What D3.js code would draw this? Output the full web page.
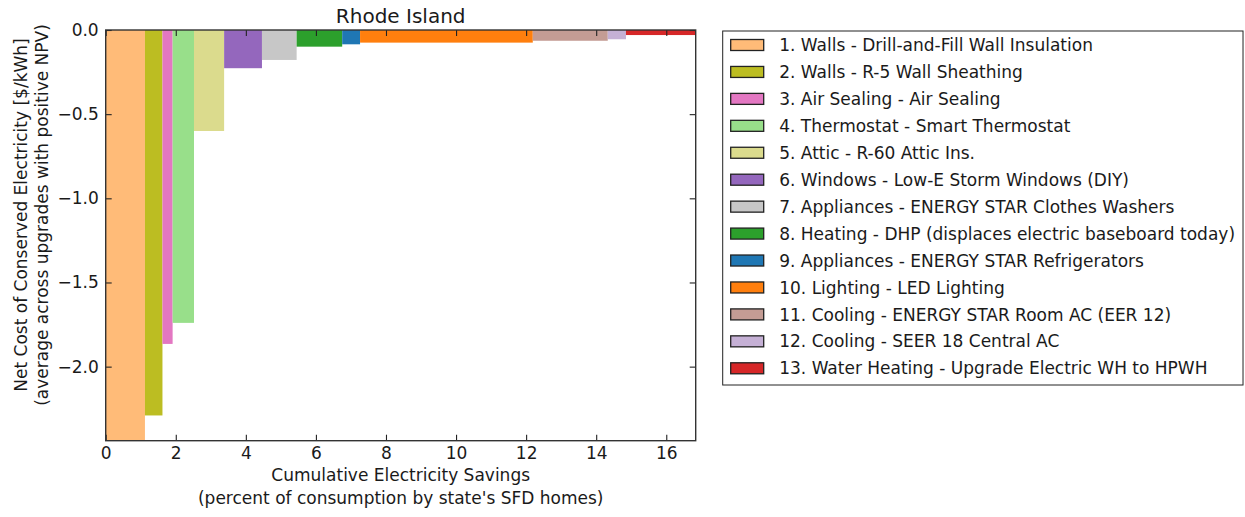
<!DOCTYPE html>
<html>
<head>
<meta charset="utf-8">
<script src="https://d3js.org/d3.v7.min.js"></script>
<style>
  body { margin: 0; background: #fff; }
  text { font-family: "DejaVu Sans", sans-serif; fill: #1a1a1a; }
</style>
</head>
<body>
<svg id="chart" width="1245" height="517"></svg>
<script>
//upgrade names, in the order they are stacked along the x axis
var upgrades = [
	"1. Walls - Drill-and-Fill Wall Insulation",
	"2. Walls - R-5 Wall Sheathing",
	"3. Air Sealing - Air Sealing",
	"4. Thermostat - Smart Thermostat",
	"5. Attic - R-60 Attic Ins.",
	"6. Windows - Low-E Storm Windows (DIY)",
	"7. Appliances - ENERGY STAR Clothes Washers",
	"8. Heating - DHP (displaces electric baseboard today)",
	"9. Appliances - ENERGY STAR Refrigerators",
	"10. Lighting - LED Lighting",
	"11. Cooling - ENERGY STAR Room AC (EER 12)",
	"12. Cooling - SEER 18 Central AC",
	"13. Water Heating - Upgrade Electric WH to HPWH"
];

//electricity savings of each upgrade (bar width, percent)
var savings = [1.12, 0.50, 0.29, 0.61, 0.86, 1.08, 0.99, 1.30, 0.51, 4.93, 2.14, 0.52, 1.99];

//net cost of conserved electricity (bar height, $/kWh)
var netCost = [-2.44, -2.29, -1.865, -1.74, -0.60, -0.227, -0.178, -0.099, -0.085, -0.075, -0.064, -0.055, -0.03];

var barColors = ["#ffbb78", "#bcbd22", "#e377c2", "#98df8a", "#dbdb8d", "#9467bd", "#c7c7c7",
	"#2ca02c", "#1f77b4", "#ff7f0e", "#c49c94", "#c5b0d5", "#d62728"];

var xTicks = [0, 2, 4, 6, 8, 10, 12, 14, 16];
var yTicks = [0, -0.5, -1.0, -1.5, -2.0];

//plot box in pixels
var plotLeft = 105.7, plotRight = 695.7, plotTop = 30, plotBottom = 440.7;
var fontSize = 17;

var svg = d3.select("#chart");

//cumulative start of every bar
var ends = Array.from(d3.cumsum(savings));
var bars = upgrades.map(function(name, i) {
	return {name: name, x0: ends[i] - savings[i], x1: ends[i], cost: netCost[i], color: barColors[i]};
});

var x = d3.scaleLinear()
	.domain([0, ends[ends.length - 1]])
	.range([plotLeft, plotRight]);

var y = d3.scaleLinear()
	.domain([d3.min(netCost), 0])
	.range([plotBottom, plotTop]);

//bars hang down from zero
svg.append("g")
	.selectAll("rect")
	.data(bars)
	.enter().append("rect")
	.attr("x", function(d) { return x(d.x0); })
	.attr("width", function(d) { return x(d.x1) - x(d.x0); })
	.attr("y", y(0))
	.attr("height", function(d) { return y(d.cost) - y(0); })
	.attr("fill", function(d) { return d.color; });

//inward ticks on all four sides (classic style)
var tickLen = 6;

svg.append("g")
	.attr("transform", "translate(0," + plotBottom + ")")
	.call(d3.axisBottom(x).tickValues(xTicks).tickFormat(d3.format("d"))
		.tickSizeInner(-tickLen).tickSizeOuter(0).tickPadding(6.5));

svg.append("g")
	.attr("transform", "translate(0," + plotTop + ")")
	.call(d3.axisTop(x).tickValues(xTicks).tickFormat("")
		.tickSizeInner(-tickLen).tickSizeOuter(0));

svg.append("g")
	.attr("transform", "translate(" + plotLeft + ",0)")
	.call(d3.axisLeft(y).tickValues(yTicks).tickFormat(d3.format(".1f"))
		.tickSizeInner(-tickLen).tickSizeOuter(0).tickPadding(7));

svg.append("g")
	.attr("transform", "translate(" + plotRight + ",0)")
	.call(d3.axisRight(y).tickValues(yTicks).tickFormat("")
		.tickSizeInner(-tickLen).tickSizeOuter(0));

svg.selectAll(".domain").remove();
svg.selectAll(".tick line").attr("stroke", "#222").attr("stroke-width", 1.1);
svg.selectAll(".tick text")
	.attr("font-size", fontSize)
	.attr("font-family", "DejaVu Sans")
	.attr("fill", "#1a1a1a");

//axes frame
svg.append("rect")
	.attr("x", plotLeft).attr("y", plotTop)
	.attr("width", plotRight - plotLeft).attr("height", plotBottom - plotTop)
	.attr("fill", "none")
	.attr("stroke", "#333")
	.attr("stroke-width", 1.4);

//title
svg.append("text")
	.attr("x", (plotLeft + plotRight) / 2)
	.attr("y", 22.5)
	.attr("text-anchor", "middle")
	.attr("font-size", 20)
	.text("Rhode Island");

//x label, two lines
var xLabel = ["Cumulative Electricity Savings", "(percent of consumption by state's SFD homes)"];
svg.append("g").selectAll("text")
	.data(xLabel)
	.enter().append("text")
	.attr("x", (plotLeft + plotRight) / 2)
	.attr("y", function(d, i) { return 481 + i * 23; })
	.attr("text-anchor", "middle")
	.attr("font-size", fontSize)
	.text(function(d) { return d; });

//y label, two lines, rotated
var yLabel = ["Net Cost of Conserved Electricity [$/kWh]", "(average across upgrades with positive NPV)"];
svg.append("g").selectAll("text")
	.data(yLabel)
	.enter().append("text")
	.attr("transform", function(d, i) { return "translate(" + (26.5 + i * 21) + ",215) rotate(-90)"; })
	.attr("text-anchor", "middle")
	.attr("font-size", fontSize)
	.text(function(d) { return d; });

//==LEGEND==
var legX = 722.7, legY = 31, rowH = 26.94;
var legend = svg.append("g").attr("transform", "translate(" + legX + "," + legY + ")");

var frame = legend.append("rect")
	.attr("x", 0).attr("y", 0)
	.attr("height", 354)
	.attr("fill", "#fff")
	.attr("stroke", "#222")
	.attr("stroke-width", 1);

var rows = legend.selectAll(".row")
	.data(bars)
	.enter().append("g")
	.attr("class", "row")
	.attr("transform", function(d, i) { return "translate(0," + (14 + i * rowH) + ")"; });

rows.append("rect")
	.attr("x", 8).attr("y", -5.5)
	.attr("width", 33).attr("height", 11)
	.attr("fill", function(d) { return d.color; })
	.attr("stroke", "#222")
	.attr("stroke-width", 1.3);

rows.append("text")
	.attr("x", 56.5)
	.attr("dy", "0.36em")
	.attr("font-size", fontSize)
	.text(function(d) { return d.name; });

//size the frame to the longest entry
var maxLen = d3.max(rows.selectAll("text").nodes(), function(n) { return n.getComputedTextLength(); });
frame.attr("width", 56.5 + maxLen + 8);
</script>
</body>
</html>
